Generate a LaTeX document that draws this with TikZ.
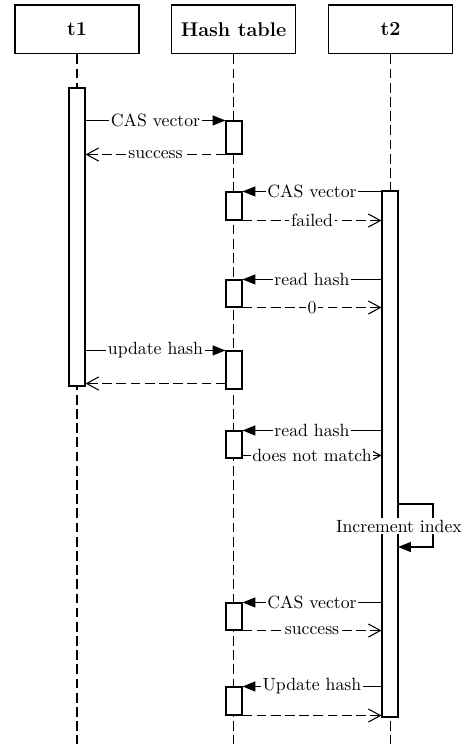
\documentclass[tikz,border=0pt]{standalone}
\usepackage{tikz}
\usetikzlibrary{arrows.meta, positioning, calc, fit}

\begin{document}
\begin{tikzpicture}[
    x=0.564pt, y=-0.564pt,
    semithick,
    head/.style={rectangle, draw, minimum width=69.9pt, minimum height=27.6pt, font=\fontsize{11.2}{13}\selectfont\bfseries},
    life/.style={dash pattern=on 5.5pt off 2.5pt},
    act/.style={rectangle, draw, fill=white, inner sep=0pt},
    lbl/.style={fill=white, inner sep=1pt},
    call/.style={-{Triangle[length=7.2pt, width=5.6pt]}},
    reply/.style={dash pattern=on 5.5pt off 2.5pt, -{Straight Barb[length=6.8pt, width=7.4pt]}}
]
    \useasboundingbox (0,0) rectangle (466,744);

    \node[head] (t1) at (77,29.5) {t1};
    \node[head] (ht) at (233.5,29.5) {Hash table};
    \node[head] (t2) at (390.5,29.5) {t2};
    \coordinate (bot) at (0,744);

    \draw[life] (t1.south) -- (t1 |- bot);
    \draw[life] (ht.south) -- (ht |- bot);
    \draw[life] (t2.south) -- (t2 |- bot);

    \node[act, fit={(69,88) (85,386)}] (a1) {};
    \node[act, fit={(382,191) (398,717)}] (b1) {};
    \node[act, fit={(226,121) (242,154)}] (h1) {};
    \node[act, fit={(226,192) (242,220)}] (h2) {};
    \node[act, fit={(226,280) (242,307)}] (h3) {};
    \node[act, fit={(226,351) (242,389)}] (h4) {};
    \node[act, fit={(226,431) (242,458)}] (h5) {};
    \node[act, fit={(226,603) (242,630)}] (h6) {};
    \node[act, fit={(226,687) (242,715)}] (h7) {};

    \draw[call] (a1.east |- h1.north) -- node[lbl] {CAS vector} (h1.north west);
    \draw[reply] (h1.south west) -- node[lbl] {success} (a1.east |- h1.south);

    \draw[call] (b1.west |- h2.north) -- node[lbl] {CAS vector} (h2.north east);
    \draw[reply] (h2.south east) -- node[lbl] {failed} (b1.west |- h2.south);

    \draw[call] (b1.west |- h3.north) -- node[lbl] {read hash} (h3.north east);
    \draw[reply] (h3.south east) -- node[lbl] {0} (b1.west |- h3.south);

    \draw[call] (a1.east |- h4.north) -- node[lbl] {update hash} (h4.north west);
    \draw[reply] ([yshift=3.4pt]h4.south west) -- ([yshift=3.4pt]a1.east |- h4.south);

    \draw[call] (b1.west |- h5.north) -- node[lbl] {read hash} (h5.north east);
    \draw[reply] ([yshift=1.7pt]h5.south east) -- node[lbl] {does not match} ([yshift=1.7pt]b1.west |- h5.south);

    \coordinate (inc1) at (398,504);
    \coordinate (inc2) at (398,547);
    \draw[call] (inc1) -- ++(35,0) |- (inc2);
    \node[lbl] (inc) at (399,526) {Increment index};

    \draw[call] (b1.west |- h6.north) -- node[lbl] {CAS vector} (h6.north east);
    \draw[reply] (h6.south east) -- node[lbl] {success} (b1.west |- h6.south);

    \draw[call] (b1.west |- h7.north) -- node[lbl] {Update hash} (h7.north east);
    \draw[reply] (h7.south east) -- (b1.west |- h7.south);
\end{tikzpicture}
\end{document}
